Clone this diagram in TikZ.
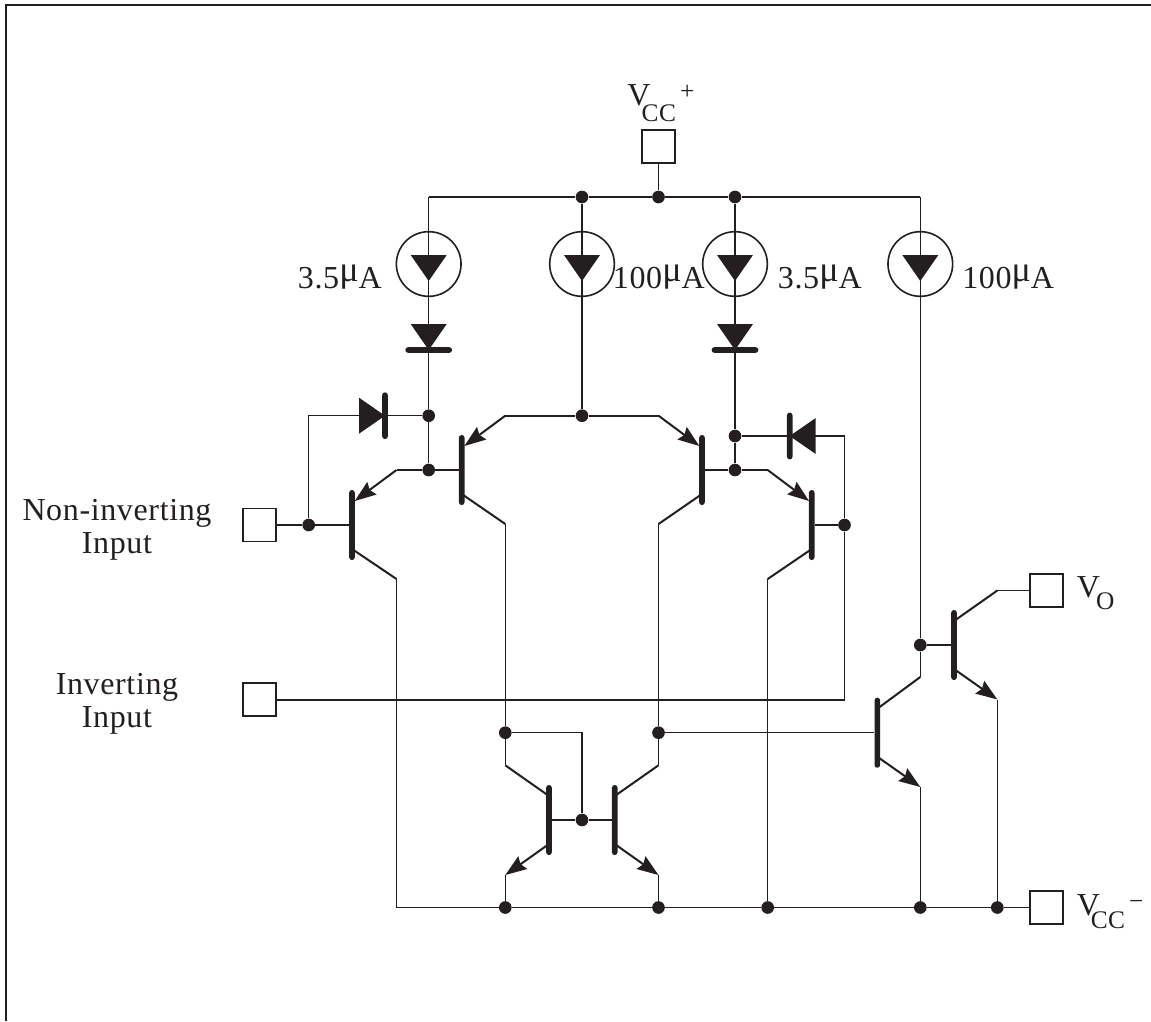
\documentclass[tikz,border=0pt]{standalone}
\usepackage{fontspec}
\setmainfont[LetterSpace=2]{Liberation Serif}
\usepackage{tikz}
\usetikzlibrary{arrows.meta}
\definecolor{ink}{HTML}{231F20}
\newcommand{\subsize}{\fontsize{19}{19}\selectfont}
\newcommand{\microsign}{\raisebox{5pt}{\fontsize{27}{27}\selectfont μ}}
\tikzset{
  wire/.style={draw=ink,line width=1pt},
  lead/.style={draw=ink,line width=1.5pt},
  tipped/.style={lead,-{Stealth[length=16pt,width=11.5pt,inset=2pt]}},
  pad/.style={rectangle,draw=ink,line width=1.2pt,fill=white,inner sep=0pt,minimum size=24.5pt},
  jdot/.style={circle,fill=ink,inner sep=0pt,minimum size=9.5pt},
  ring/.style={circle,draw=ink,line width=1.2pt,inner sep=0pt,minimum size=48.5pt},
  vbar/.style={rectangle,rounded corners=2pt,fill=ink,inner sep=0pt,minimum width=4.2pt,minimum height=52.5pt},
  dbarh/.style={rectangle,rounded corners=2pt,fill=ink,inner sep=0pt,minimum width=35pt,minimum height=4.2pt},
  dbarv/.style={rectangle,rounded corners=2pt,fill=ink,inner sep=0pt,minimum width=4.2pt,minimum height=35pt},
  lab/.style={text=ink,inner sep=0pt,font=\fontsize{24}{25}\selectfont},
  tridown/.pic={\fill [ink] (-18,-26) -- (18,-26) -- (0,0) -- cycle;},
}
\begin{document}
\begin{tikzpicture}[x=0.75pt,y=-0.75pt]
\useasboundingbox (0,0) rectangle (1151,1021);
\coordinate (frametr) at (1151,4.5);
\coordinate (frametl) at (6,4.5);
\coordinate (framebl) at (6,1021);
\draw [draw=ink,line width=1.5pt] (frametr) -- (frametl) -- (framebl);

\node (padcc)  at (658.5,146.5) [pad] {};
\node (padni)  at (259.5,525)   [pad] {};
\node (padinv) at (259.5,699.5) [pad] {};
\node (pado)   at (1046.5,590.5) [pad] {};
\node (padee)  at (1046.5,907.5) [pad] {};

\node (top1) at (582,197)   [jdot] {};
\node (top2) at (658.5,197) [jdot] {};
\node (top3) at (735,197)   [jdot] {};
\coordinate (topl) at (428.7,197);
\coordinate (topr) at (920.3,197);

\node (src1) at (428.7,264) [ring] {};
\node (src2) at (582,264)   [ring] {};
\node (src3) at (735,264)   [ring] {};
\node (src4) at (920.3,264) [ring] {};
\pic (tri1) at (428.7,281) {tridown};
\pic (tri2) at (582,281)   {tridown};
\pic (tri3) at (735,281)   {tridown};
\pic (tri4) at (920.3,281) {tridown};

\node (dio1) at (428.7,350) [dbarh] {};
\node (dio2) at (735,350)   [dbarh] {};
\node (dio3) at (385,415.7) [dbarv] {};
\node (dio4) at (789.7,436) [dbarv] {};
\pic (tri5) at (428.7,350) {tridown};
\pic (tri6) at (735,350)   {tridown};
\pic (tri7) [rotate=90]  at (385,415.7) {tridown};
\pic (tri8) [rotate=-90] at (789.7,436) {tridown};

\node (n1) at (428.7,415.7) [jdot] {};
\node (n2) at (428.7,470)   [jdot] {};
\node (n3) at (735,436)     [jdot] {};
\node (n4) at (735,470)     [jdot] {};
\node (tail) at (582,415.7) [jdot] {};
\node (nleft)  at (308.7,525) [jdot] {};
\node (nright) at (844.5,525) [jdot] {};
\node (mirl) at (505.3,732.7) [jdot] {};
\node (mirr) at (658.5,732.7) [jdot] {};
\node (mirb) at (582,820)     [jdot] {};
\node (nout) at (920.3,645)   [jdot] {};
\node (low1) at (505.3,907.5) [jdot] {};
\node (low2) at (658.5,907.5) [jdot] {};
\node (low3) at (767.7,907.5) [jdot] {};
\node (low4) at (920.3,907.5) [jdot] {};
\node (low5) at (997.3,907.5) [jdot] {};

\node (q1) at (352,525)     [vbar] {};
\node (q2) at (461.7,470)   [vbar] {};
\node (q3) at (702,470)     [vbar] {};
\node (q4) at (549,820)     [vbar] {};
\node (q5) at (614.7,820)   [vbar] {};
\node (q6) at (954,645)     [vbar] {};
\node (q7) at (877.3,732.7) [vbar] {};
\node (q8) at (811.7,525)   [vbar] {};

\coordinate (e1) at (396.5,470);
\coordinate (c1) at (396.5,579);
\coordinate (e2) at (505.3,415.7);
\coordinate (c2) at (505.3,524);
\coordinate (e3) at (658.5,415.7);
\coordinate (c3) at (658.5,524);
\coordinate (e4) at (505.3,875);
\coordinate (c4) at (505.3,765.3);
\coordinate (e5) at (658.5,875);
\coordinate (c5) at (658.5,765.3);
\coordinate (e6) at (997.3,699.5);
\coordinate (c6) at (997.3,590.5);
\coordinate (e7) at (920.3,787);
\coordinate (c7) at (920.3,677);
\coordinate (e8) at (767.7,470);
\coordinate (c8) at (767.7,579);
\coordinate (lowl) at (396.5,907.5);
\coordinate (leftc) at (308.7,415.7);
\coordinate (rightc) at (844.5,436);
\coordinate (rightb) at (844.5,699.5);
\coordinate (mirm) at (582,732.7);

\draw [wire] (padcc) -- (top2);
\draw [wire] (topl) -- (top1) -- (top2) -- (top3) -- (topr);
\draw [wire] (topl) -- (src1.center) -- (dio1.center) -- (n1) -- (n2);
\draw [wire] (top1) -- (src2.center) -- (tail);
\draw [wire] (top3) -- (src3.center) -- (dio2.center) -- (n3) -- (n4);
\draw [wire] (topr) -- (src4.center) -- (nout) -- (c7);
\draw [wire] (n1) -- (leftc) -- (nleft);
\draw [wire] (n3) -- (rightc) -- (nright) -- (rightb);
\draw [lead] (rightb) -- (padinv);
\draw [wire] (padni) -- (nleft) -- (q1);
\draw [wire] (nright) -- (q8);
\draw [wire] (q2) -- (n2) -- (e1);
\draw [wire] (q3) -- (n4) -- (e8);
\draw [lead] (e2) -- (tail) -- (e3);
\draw [wire] (c1) -- (lowl) -- (low1) -- (low2) -- (low3) -- (low4) -- (low5) -- (padee);
\draw [wire] (c2) -- (mirl) -- (c4);
\draw [wire] (c3) -- (mirr) -- (c5);
\draw [wire] (mirl) -- (mirm) -- (mirb);
\draw [wire] (q4) -- (mirb) -- (q5);
\draw [wire] (mirr) -- (q7);
\draw [wire] (nout) -- (q6);
\draw [wire] (c6) -- (pado);
\draw [wire] (c8) -- (low3);
\draw [wire] (e4) -- (low1);
\draw [wire] (e5) -- (low2);
\draw [wire] (e6) -- (low5);
\draw [wire] (e7) -- (low4);

\draw [tipped] (e1) -- ([xshift=2pt,yshift=18pt]q1.center);
\draw [tipped] (e2) -- ([xshift=2pt,yshift=18pt]q2.center);
\draw [tipped] (e3) -- ([xshift=-2pt,yshift=18pt]q3.center);
\draw [tipped] (e8) -- ([xshift=-2pt,yshift=18pt]q8.center);
\draw [tipped] ([yshift=-18pt]q4.center) -- (e4);
\draw [tipped] ([yshift=-18pt]q5.center) -- (e5);
\draw [tipped] ([yshift=-18pt]q6.center) -- (e6);
\draw [tipped] ([yshift=-18pt]q7.center) -- (e7);
\draw [lead] (c1) -- ([yshift=-18pt]q1.center);
\draw [lead] (c2) -- ([yshift=-18pt]q2.center);
\draw [lead] (c3) -- ([yshift=-18pt]q3.center);
\draw [lead] (c8) -- ([yshift=-18pt]q8.center);
\draw [lead] (c4) -- ([yshift=18pt]q4.center);
\draw [lead] (c5) -- ([yshift=18pt]q5.center);
\draw [lead] (c6) -- ([yshift=18pt]q6.center);
\draw [lead] (c7) -- ([yshift=18pt]q7.center);

\node (labcc) at (627,105) [lab,anchor=base west] {V\hspace{-6.5pt}\raisebox{-12.5pt}{\subsize CC}\hspace{3pt}\raisebox{4pt}{\subsize +}};
\node (labee) at (1076.7,915) [lab,anchor=base west] {V\hspace{-7pt}\raisebox{-10pt}{\subsize CC}\hspace{3pt}\raisebox{4pt}{\subsize −}};
\node (labo)  at (1076.7,597) [lab,anchor=base west] {V\hspace{-3pt}\raisebox{-9pt}{\subsize O}};
\node (lab1) at (297.7,288) [lab,anchor=base west] {3.5\microsign A};
\node (lab2) at (612.7,288) [lab,anchor=base west] {100\microsign A};
\node (lab3) at (777.7,288) [lab,anchor=base west] {3.5\microsign A};
\node (lab4) at (962,288)   [lab,anchor=base west] {100\microsign A};
\node (labni)  at (117,530) [lab,align=center] {Non-inverting\\Input};
\node (labinv) at (117,704) [lab,align=center] {Inverting\\Input};
\end{tikzpicture}
\end{document}
